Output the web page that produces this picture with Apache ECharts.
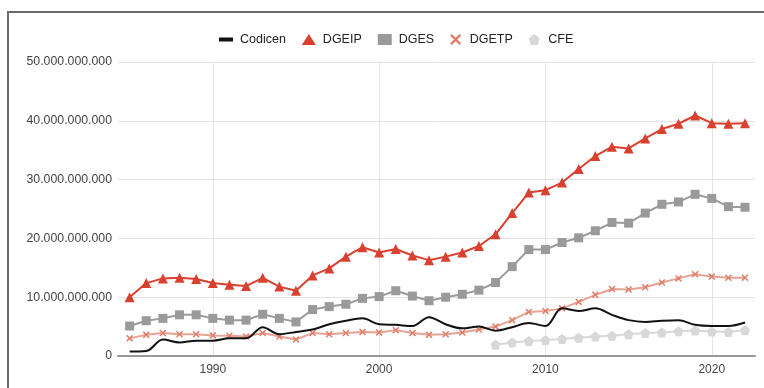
<!DOCTYPE html>
<html>
<head>
<meta charset="utf-8">
<script src="https://cdn.jsdelivr.net/npm/echarts@6/dist/echarts.min.js"></script>
<style>
  html, body { margin: 0; padding: 0; background: #fff; }
  #chart { width: 764px; height: 388px; }
</style>
</head>
<body>
<div id="chart"></div>
<script>
// años y valores
const years = [1985, 1986, 1987, 1988, 1989, 1990, 1991, 1992, 1993, 1994, 1995, 1996, 1997, 1998, 1999,
  2000, 2001, 2002, 2003, 2004, 2005, 2006, 2007, 2008, 2009, 2010, 2011, 2012, 2013, 2014,
  2015, 2016, 2017, 2018, 2019, 2020, 2021, 2022];

// miles de millones
const codicen = [0.75, 0.85, 2.8, 2.3, 2.6, 2.6, 3.0, 3.0, 4.9, 3.7, 4.1, 4.5, 5.4, 6.0, 6.4,
  5.4, 5.3, 5.1, 6.6, 5.4, 4.7, 5.0, 4.3, 4.9, 5.6, 5.1, 8.1, 7.65, 8.1, 7.0,
  6.1, 5.8, 6.0, 6.1, 5.3, 5.1, 5.1, 5.7];
const dgeip = [10.0, 12.4, 13.2, 13.3, 13.1, 12.4, 12.1, 11.9, 13.3, 11.8, 11.1, 13.7, 14.9, 16.9, 18.5,
  17.6, 18.2, 17.1, 16.3, 16.9, 17.6, 18.7, 20.7, 24.3, 27.8, 28.2, 29.5, 31.8, 34.0, 35.6,
  35.3, 37.0, 38.6, 39.5, 40.9, 39.6, 39.5, 39.6];
const dges = [5.1, 6.0, 6.4, 7.0, 7.0, 6.4, 6.1, 6.1, 7.1, 6.4, 5.8, 7.9, 8.4, 8.8, 9.8,
  10.1, 11.1, 10.2, 9.4, 10.0, 10.5, 11.2, 12.5, 15.2, 18.1, 18.1, 19.3, 20.1, 21.3, 22.7,
  22.6, 24.3, 25.8, 26.2, 27.5, 26.8, 25.4, 25.3];
const dgetp = [3.0, 3.6, 3.9, 3.7, 3.7, 3.5, 3.45, 3.3, 3.9, 3.3, 2.8, 3.9, 3.7, 3.9, 4.1,
  4.0, 4.4, 3.9, 3.6, 3.7, 4.0, 4.5, 5.0, 6.1, 7.5, 7.65, 8.1, 9.2, 10.4, 11.4,
  11.3, 11.7, 12.5, 13.2, 13.9, 13.5, 13.3, 13.3];
// CFE empieza en 2007
const cfe = [null, null, null, null, null, null, null, null, null, null, null, null, null, null, null,
  null, null, null, null, null, null, null, 1.9, 2.3, 2.55, 2.7, 2.9, 3.1, 3.3, 3.45,
  3.7, 3.9, 4.0, 4.2, 4.35, 4.15, 4.1, 4.4];

const yearTicks = [1990, 2000, 2010, 2020];

const crossPath = 'path://M1.5,0L5,3.5L8.5,0L10,1.5L6.5,5L10,8.5L8.5,10L5,6.5L1.5,10L0,8.5L3.5,5L0,1.5Z';
const pentagonPath = 'path://M5,0L10,3.8L8.1,10L1.9,10L0,3.8Z';
const barPath = 'path://M0,0L14,0L14,4L0,4Z';

const toPairs = (arr) => years.map((y, i) => [y, arr[i] == null ? null : arr[i] * 1e9]);

const fmt = (v) => String(Math.round(v)).replace(/\B(?=(\d{3})+(?!\d))/g, '.');

const chart = echarts.init(document.getElementById('chart'));

const option = {
  backgroundColor: '#fff',
  animation: false,
  textStyle: { fontFamily: 'Arial, "Liberation Sans", sans-serif' },
  graphic: [
    {
      type: 'rect',
      shape: { x: 8, y: 12, width: 800, height: 500 },
      style: { fill: 'none', stroke: '#6a6a6a', lineWidth: 2 },
      silent: true
    }
  ],
  legend: {
    top: 28,
    left: 214,
    itemGap: 16,
    itemWidth: 14,
    itemHeight: 11,
    textStyle: { color: '#222', fontSize: 12.5, padding: [0, 0, 0, 2] },
    data: [
      { name: 'Codicen', icon: barPath, itemStyle: { color: '#111' } },
      { name: 'DGEIP', icon: 'triangle' },
      { name: 'DGES', icon: 'rect' },
      { name: 'DGETP', icon: crossPath },
      { name: 'CFE', icon: pentagonPath }
    ]
  },
  grid: { left: 118, right: 9, top: 62, bottom: 32, containLabel: false },
  xAxis: {
    type: 'value',
    min: 1984.3,
    max: 2022.6,
    axisLine: { show: true, lineStyle: { color: '#999', width: 2 } },
    axisTick: { show: false, customValues: yearTicks },
    axisLabel: { customValues: yearTicks, color: '#444', fontSize: 12, margin: 8, formatter: (v) => String(v) },
    splitLine: { show: true, lineStyle: { color: '#e3e3e3' } }
  },
  yAxis: {
    type: 'value',
    min: 0,
    max: 50e9,
    interval: 10e9,
    axisLine: { show: false },
    axisTick: { show: false },
    axisLabel: { color: '#444', fontSize: 12.3, margin: 6, formatter: fmt },
    splitLine: { lineStyle: { color: '#e3e3e3' } }
  },
  series: [
    {
      name: 'Codicen',
      type: 'line',
      data: toPairs(codicen),
      smooth: 0.35,
      showSymbol: false,
      symbol: 'none',
      lineStyle: { color: '#111', width: 2 },
      itemStyle: { color: '#111' },
      z: 5
    },
    {
      name: 'DGEIP',
      type: 'line',
      data: toPairs(dgeip),
      symbol: 'triangle',
      symbolSize: 10,
      lineStyle: { color: '#d9402f', width: 2 },
      itemStyle: { color: '#d9402f' }
    },
    {
      name: 'DGES',
      type: 'line',
      data: toPairs(dges),
      symbol: 'rect',
      symbolSize: 9,
      lineStyle: { color: '#9a9a9a', width: 2 },
      itemStyle: { color: '#9a9a9a' }
    },
    {
      name: 'DGETP',
      type: 'line',
      data: toPairs(dgetp),
      symbol: crossPath,
      symbolSize: 7,
      lineStyle: { color: '#e6a394', width: 2 },
      itemStyle: { color: '#e07d6a' }
    },
    {
      name: 'CFE',
      type: 'line',
      data: toPairs(cfe),
      symbol: pentagonPath,
      symbolSize: 10,
      connectNulls: false,
      lineStyle: { color: '#d8d8d8', width: 2 },
      itemStyle: { color: '#d8d8d8' }
    }
  ]
};

option && chart.setOption(option);
</script>
</body>
</html>
